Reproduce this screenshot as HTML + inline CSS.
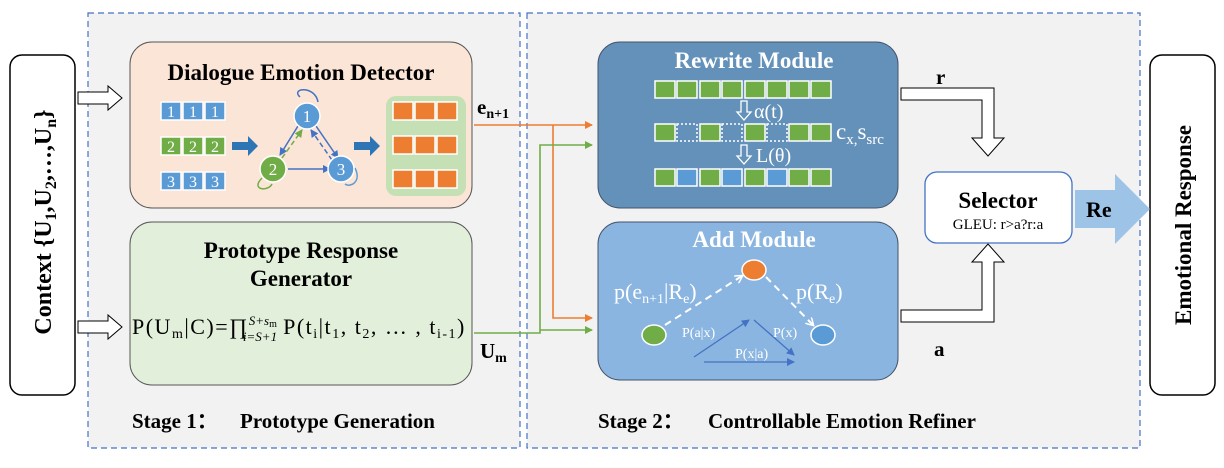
<!DOCTYPE html>
<html><head><meta charset="utf-8"><style>
body{margin:0;background:#fff;}
svg text{font-family:"Liberation Serif",serif;}
</style></head><body>
<svg width="1224" height="463" viewBox="0 0 1224 463" xmlns="http://www.w3.org/2000/svg">
<defs>
<marker id="ao" markerWidth="8" markerHeight="8" refX="7" refY="4" orient="auto" markerUnits="userSpaceOnUse"><path d="M0,0 L8,4 L0,8 z" fill="#ed7d31"/></marker>
<marker id="ag" markerWidth="8" markerHeight="8" refX="7" refY="4" orient="auto" markerUnits="userSpaceOnUse"><path d="M0,0 L8,4 L0,8 z" fill="#70ad47"/></marker>
<marker id="ab" markerWidth="8" markerHeight="8" refX="7" refY="4" orient="auto" markerUnits="userSpaceOnUse"><path d="M0,0 L8,4 L0,8 z" fill="#4472c4"/></marker>
<marker id="aw" markerWidth="9" markerHeight="9" refX="7" refY="4.5" orient="auto" markerUnits="userSpaceOnUse"><path d="M0,0 L8,4.5 L0,9" fill="none" stroke="#fff" stroke-width="1.5"/></marker>
</defs>
<rect x="88" y="13" width="432" height="435" fill="#f2f2f2" stroke="#4472c4" stroke-dasharray="6,4" stroke-width="1.2"/>
<rect x="527" y="13" width="613" height="435" fill="#f2f2f2" stroke="#4472c4" stroke-dasharray="6,4" stroke-width="1.2"/>
<rect x="10" y="55" width="65" height="340" rx="12" fill="#fff" stroke="#000" stroke-width="1.5"/>
<text transform="translate(51,222) rotate(-90)" text-anchor="middle" font-size="24" font-weight="bold">Context  {U<tspan font-size="16" dy="5">1</tspan><tspan dy="-5">,U</tspan><tspan font-size="16" dy="5">2</tspan><tspan dy="-5">,…,U</tspan><tspan font-size="16" dy="5">n</tspan><tspan dy="-5">}</tspan></text>
<rect x="1150" y="55" width="65" height="340" rx="12" fill="#fff" stroke="#000" stroke-width="1.5"/>
<text transform="translate(1191,225) rotate(-90)" text-anchor="middle" font-size="23" font-weight="bold">Emotional Response</text>
<path d="M78,92 L108,92 L108,86 L122,98 L108,110 L108,104 L78,104 z" fill="#fff" stroke="#000"/>
<path d="M78,321 L108,321 L108,315 L122,327 L108,339 L108,333 L78,333 z" fill="#fff" stroke="#000"/>
<rect x="130" y="42" width="342" height="166" rx="22" fill="#fbe5d6" stroke="#555" stroke-width="1"/>
<text x="301" y="80" text-anchor="middle" font-size="23" font-weight="bold">Dialogue Emotion Detector</text>
<g font-family="Liberation Sans" font-size="16" fill="#fff" text-anchor="middle">
<g stroke="#fff" stroke-width="1.5">
<rect x="161" y="102" width="20" height="18" fill="#5b9bd5"/><rect x="183" y="102" width="20" height="18" fill="#5b9bd5"/><rect x="205" y="102" width="20" height="18" fill="#5b9bd5"/>
<rect x="161" y="137" width="20" height="18" fill="#70ad47"/><rect x="183" y="137" width="20" height="18" fill="#70ad47"/><rect x="205" y="137" width="20" height="18" fill="#70ad47"/>
<rect x="161" y="172" width="20" height="18" fill="#5b9bd5"/><rect x="183" y="172" width="20" height="18" fill="#5b9bd5"/><rect x="205" y="172" width="20" height="18" fill="#5b9bd5"/>
</g>
<text x="171" y="117">1</text><text x="193" y="117">1</text><text x="215" y="117">1</text>
<text x="171" y="152">2</text><text x="193" y="152">2</text><text x="215" y="152">2</text>
<text x="171" y="187">3</text><text x="193" y="187">3</text><text x="215" y="187">3</text>
</g>
<path d="M232,142 L248,142 L248,136 L258,146 L248,156 L248,150 L232,150 z" fill="#2e75b6"/>
<path d="M354,142 L370,142 L370,136 L380,146 L370,156 L370,150 L354,150 z" fill="#2e75b6"/>
<line x1="298" y1="126" x2="280" y2="155" stroke="#4472c4" stroke-width="1.5" marker-end="url(#ab)"/>
<line x1="282" y1="158" x2="302" y2="130" stroke="#70ad47" stroke-width="1.5" stroke-dasharray="5,3" marker-end="url(#ag)"/>
<line x1="316" y1="126" x2="338" y2="158" stroke="#4472c4" stroke-width="1.5" marker-end="url(#ab)"/>
<line x1="332" y1="160" x2="311" y2="130" stroke="#4472c4" stroke-width="1.5" stroke-dasharray="5,3" marker-end="url(#ab)"/>
<line x1="288" y1="169" x2="330" y2="169" stroke="#4472c4" stroke-width="1.5" marker-end="url(#ab)"/>
<path d="M300,97 C290,88 315,85 318,102" fill="none" stroke="#4472c4" stroke-width="1.5"/>
<path d="M262,178 C250,190 268,192 272,184" fill="none" stroke="#70ad47" stroke-width="1.5"/>
<path d="M355,168 C362,182 350,188 345,184" fill="none" stroke="#5b9bd5" stroke-width="1.5"/>
<g stroke="#fff" stroke-width="1.5"><circle cx="307" cy="116" r="13" fill="#5b9bd5"/><circle cx="273" cy="169" r="13" fill="#70ad47"/><circle cx="341" cy="169" r="13" fill="#5b9bd5"/></g>
<g font-family="Liberation Sans" font-size="17" fill="#fff" text-anchor="middle"><text x="307" y="122">1</text><text x="273" y="175">2</text><text x="341" y="175">3</text></g>
<rect x="386" y="96" width="80" height="100" rx="10" fill="#c5e0b4"/>
<g fill="#ed7d31" stroke="#fff" stroke-width="1.5">
<rect x="393" y="102" width="20" height="18"/><rect x="415" y="102" width="20" height="18"/><rect x="437" y="102" width="20" height="18"/>
<rect x="393" y="136" width="20" height="18"/><rect x="415" y="136" width="20" height="18"/><rect x="437" y="136" width="20" height="18"/>
<rect x="393" y="170" width="20" height="18"/><rect x="415" y="170" width="20" height="18"/><rect x="437" y="170" width="20" height="18"/>
</g>
<rect x="130" y="222" width="342" height="163" rx="22" fill="#e2efda" stroke="#555" stroke-width="1"/>
<text x="301" y="258" text-anchor="middle" font-size="23" font-weight="bold">Prototype Response</text>
<text x="301" y="286" text-anchor="middle" font-size="23" font-weight="bold">Generator</text>
<text x="132" y="334" font-size="22" letter-spacing="1.5">P(U<tspan font-size="14" dy="4">m</tspan><tspan dy="-4">|C)=∏</tspan><tspan font-size="13" dy="-9" font-style="italic" letter-spacing="0">S+s</tspan><tspan font-size="10" dy="2" letter-spacing="0">m</tspan><tspan font-size="13" dx="-34" dy="14" font-style="italic" letter-spacing="0">i=S+1</tspan><tspan dy="-7" dx="6">P(t</tspan><tspan font-size="14" dy="4">i</tspan><tspan dy="-4">|t</tspan><tspan font-size="14" dy="4">1</tspan><tspan dy="-4">, t</tspan><tspan font-size="14" dy="4">2</tspan><tspan dy="-4">, … , t</tspan><tspan font-size="14" dy="4">i-1</tspan><tspan dy="-4">)</tspan></text>
<text x="477" y="114" font-size="21" font-weight="bold">e<tspan font-size="14" dy="4">n+1</tspan></text>
<text x="480" y="358" font-size="21" font-weight="bold">U<tspan font-size="14" dy="4">m</tspan></text>
<polyline points="474,125 592,125" fill="none" stroke="#ed7d31" stroke-width="1.6" marker-end="url(#ao)"/>
<polyline points="553,125 553,318 592,318" fill="none" stroke="#ed7d31" stroke-width="1.6" marker-end="url(#ao)"/>
<polyline points="474,333 540,333 540,145 592,145" fill="none" stroke="#70ad47" stroke-width="1.6" marker-end="url(#ag)"/>
<polyline points="540,330 592,330" fill="none" stroke="#70ad47" stroke-width="1.6" marker-end="url(#ag)"/>
<rect x="598" y="42" width="300" height="166" rx="22" fill="#6391ba" stroke="#44546a" stroke-width="1"/>
<text x="754" y="68" text-anchor="middle" font-size="23" font-weight="bold" fill="#fff">Rewrite Module</text>
<g stroke="#fff" stroke-width="1.5">
<g fill="#70ad47"><rect x="655" y="81" width="20" height="17"/><rect x="677" y="81" width="20" height="17"/><rect x="700" y="81" width="20" height="17"/><rect x="722" y="81" width="20" height="17"/><rect x="745" y="81" width="20" height="17"/><rect x="767" y="81" width="20" height="17"/><rect x="789" y="81" width="20" height="17"/><rect x="811" y="81" width="20" height="17"/></g>
<g fill="#70ad47"><rect x="655" y="124" width="20" height="17"/><rect x="700" y="124" width="20" height="17"/><rect x="745" y="124" width="20" height="17"/><rect x="789" y="124" width="20" height="17"/><rect x="811" y="124" width="20" height="17"/></g>
<g fill="none" stroke-dasharray="2,2"><rect x="677" y="124" width="20" height="17"/><rect x="722" y="124" width="20" height="17"/><rect x="767" y="124" width="20" height="17"/></g>
<rect x="655" y="169" width="20" height="17" fill="#70ad47"/><rect x="677" y="169" width="20" height="17" fill="#5b9bd5"/><rect x="700" y="169" width="20" height="17" fill="#70ad47"/><rect x="722" y="169" width="20" height="17" fill="#5b9bd5"/><rect x="745" y="169" width="20" height="17" fill="#70ad47"/><rect x="767" y="169" width="20" height="17" fill="#5b9bd5"/><rect x="789" y="169" width="20" height="17" fill="#70ad47"/><rect x="811" y="169" width="20" height="17" fill="#70ad47"/>
</g>
<path d="M741,101 L747,101 L747,112 L751,112 L744,120 L737,112 L741,112 z" fill="#6391ba" stroke="#fff" stroke-width="1.3"/>
<path d="M741,145 L747,145 L747,156 L751,156 L744,164 L737,156 L741,156 z" fill="#6391ba" stroke="#fff" stroke-width="1.3"/>
<g fill="#fff" font-size="20"><text x="754" y="118">α(t)</text><text x="756" y="162">L(θ)</text>
<text x="836" y="139" font-size="23">c<tspan font-size="15" dy="5">x,</tspan><tspan dy="-5">s</tspan><tspan font-size="15" dy="5">src</tspan></text></g>
<rect x="598" y="222" width="300" height="158" rx="22" fill="#8ab5e0" stroke="#44546a" stroke-width="1"/>
<text x="754" y="247" text-anchor="middle" font-size="23" font-weight="bold" fill="#fff">Add Module</text>
<g stroke="#fff" stroke-width="1.5"><ellipse cx="754" cy="270" rx="12" ry="10" fill="#ed7d31"/><ellipse cx="654" cy="335" rx="12" ry="10" fill="#70ad47"/><ellipse cx="823" cy="335" rx="12" ry="10" fill="#5b9bd5"/></g>
<line x1="665" y1="325" x2="742" y2="276" stroke="#fff" stroke-width="2" stroke-dasharray="7,5" marker-end="url(#aw)"/>
<line x1="766" y1="277" x2="813" y2="325" stroke="#fff" stroke-width="2" stroke-dasharray="7,5" marker-end="url(#aw)"/>
<line x1="694" y1="357" x2="749" y2="320" stroke="#4472c4" stroke-width="1.3" marker-end="url(#ab)"/>
<line x1="754" y1="320" x2="794" y2="355" stroke="#4472c4" stroke-width="1.3" marker-end="url(#ab)"/>
<line x1="704" y1="362" x2="794" y2="362" stroke="#4472c4" stroke-width="1.3" marker-end="url(#ab)"/>
<g fill="#fff"><text x="614" y="299" font-size="22">p(e<tspan font-size="14" dy="4">n+1</tspan><tspan dy="-4">|R</tspan><tspan font-size="14" dy="4">e</tspan><tspan dy="-4">)</tspan></text>
<text x="796" y="299" font-size="22">p(R<tspan font-size="14" dy="4">e</tspan><tspan dy="-4">)</tspan></text>
<text x="682" y="337" font-size="14">P(a|x)</text><text x="773" y="337" font-size="14">P(x)</text><text x="735" y="358" font-size="14">P(x|a)</text></g>
<text x="936" y="84" font-size="21" font-weight="bold">r</text>
<text x="934" y="356" font-size="21" font-weight="bold">a</text>
<path d="M901,88 L994,88 L994,138 L1004,138 L988,156 L972,138 L982,138 L982,100 L901,100 z" fill="#fff" stroke="#000"/>
<path d="M901,322 L994,322 L994,262 L1004,262 L988,244 L972,262 L982,262 L982,310 L901,310 z" fill="#fff" stroke="#000"/>
<rect x="925" y="172" width="147" height="71" rx="12" fill="#fff" stroke="#4472c4" stroke-width="1.3"/>
<text x="998" y="208" text-anchor="middle" font-size="23" font-weight="bold">Selector</text>
<text x="998" y="229" text-anchor="middle" font-size="15">GLEU: r&gt;a?r:a</text>
<path d="M1075,190 L1115,190 L1115,174 L1150,209 L1115,244 L1115,228 L1075,228 z" fill="#9dc3e6"/>
<text x="1086" y="217" font-size="22" font-weight="bold">Re</text>
<text x="132" y="428" font-size="21" font-weight="bold">Stage 1：</text>
<text x="240" y="428" font-size="21" font-weight="bold">Prototype Generation</text>
<text x="598" y="428" font-size="21" font-weight="bold">Stage 2：</text>
<text x="708" y="428" font-size="21" font-weight="bold">Controllable Emotion Refiner</text>
</svg>
</body></html>
